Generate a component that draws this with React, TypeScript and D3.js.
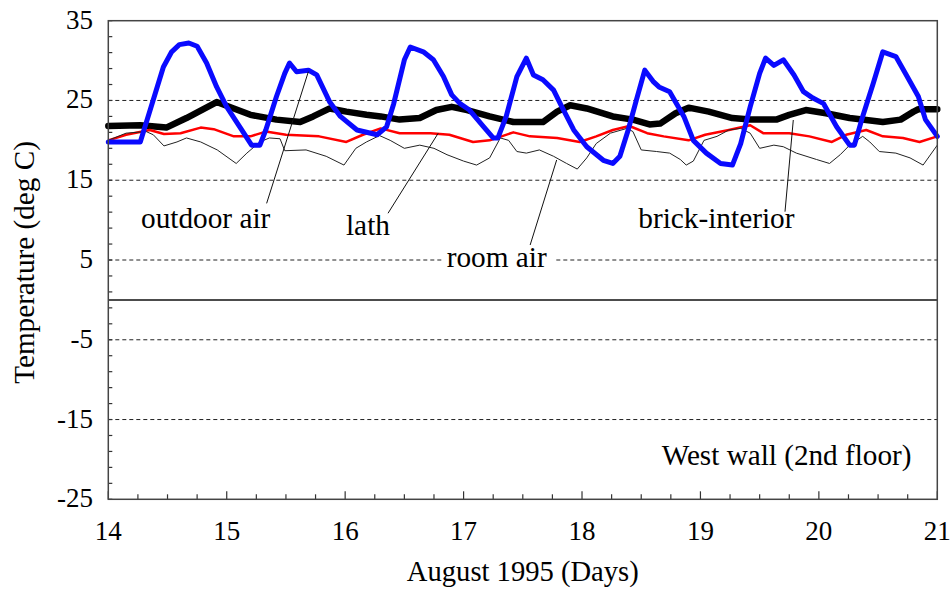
import React from "react";
import * as d3 from "d3";

const outdoorDays = [14.0, 14.27, 14.38, 14.465, 14.535, 14.6, 14.68, 14.75, 14.83, 14.915, 15.0, 15.11, 15.21, 15.28, 15.33, 15.42, 15.49, 15.53, 15.59, 15.69, 15.76, 15.87, 15.96, 16.1, 16.27, 16.35, 16.41, 16.5, 16.55, 16.66, 16.745, 16.83, 16.9, 16.97, 17.05, 17.17, 17.25, 17.29, 17.36, 17.45, 17.53, 17.59, 17.67, 17.76, 17.83, 17.93, 18.04, 18.18, 18.26, 18.32, 18.39, 18.46, 18.53, 18.6, 18.65, 18.74, 18.86, 18.94, 19.05, 19.17, 19.27, 19.34, 19.42, 19.5, 19.55, 19.62, 19.7, 19.79, 19.87, 19.95, 20.04, 20.15, 20.26, 20.3, 20.37, 20.46, 20.54, 20.65, 20.73, 20.84, 20.9, 21.0];
const outdoorTemps = [19.8, 19.8, 25.1, 29.2, 31.1, 32.0, 32.2, 31.8, 29.7, 26.7, 24.2, 21.7, 19.4, 19.4, 21.3, 25.5, 28.4, 29.7, 28.6, 28.8, 28.2, 24.8, 23.0, 21.3, 20.7, 21.7, 24.6, 30.1, 31.7, 31.1, 30.1, 28.0, 25.7, 24.6, 23.8, 21.7, 20.3, 20.3, 23.0, 28.0, 30.3, 28.2, 27.6, 26.3, 24.2, 21.3, 19.2, 17.5, 17.1, 18.0, 21.3, 25.1, 28.8, 27.4, 26.7, 26.1, 23.0, 20.0, 18.4, 17.1, 16.9, 19.6, 24.2, 28.4, 30.3, 29.4, 30.1, 28.2, 26.1, 25.3, 24.6, 21.7, 19.4, 19.4, 23.0, 27.2, 31.1, 30.5, 28.4, 25.5, 22.6, 20.5];

const brickDays = [14.0, 14.27, 14.49, 14.66, 14.915, 15.06, 15.2, 15.42, 15.62, 15.73, 15.87, 16.01, 16.18, 16.3, 16.46, 16.63, 16.77, 16.9, 17.03, 17.22, 17.42, 17.67, 17.79, 17.9, 18.04, 18.26, 18.43, 18.57, 18.66, 18.79, 18.9, 19.07, 19.27, 19.42, 19.64, 19.75, 19.89, 20.06, 20.26, 20.54, 20.69, 20.8, 20.84, 21.0];
const brickTemps = [21.8, 21.9, 21.6, 22.8, 24.8, 24.0, 23.2, 22.6, 22.3, 23.0, 24.0, 23.6, 23.2, 23.0, 22.6, 22.8, 23.8, 24.2, 23.8, 23.0, 22.3, 22.3, 23.6, 24.4, 24.0, 23.0, 22.6, 22.0, 22.1, 23.4, 24.1, 23.6, 22.8, 22.6, 22.6, 23.2, 23.8, 23.4, 22.8, 22.3, 22.6, 23.6, 23.9, 23.9];

const lathDays = [14.0, 14.15, 14.35, 14.47, 14.61, 14.78, 14.89, 15.06, 15.2, 15.33, 15.5, 15.78, 16.01, 16.15, 16.3, 16.46, 16.72, 16.88, 17.08, 17.22, 17.42, 17.56, 17.79, 17.98, 18.12, 18.26, 18.4, 18.55, 18.69, 18.9, 19.04, 19.24, 19.42, 19.53, 19.75, 19.92, 20.11, 20.23, 20.4, 20.54, 20.71, 20.85, 21.0];
const lathTemps = [20.0, 20.7, 21.3, 20.8, 20.9, 21.6, 21.4, 20.5, 20.5, 21.1, 20.7, 20.5, 19.8, 20.7, 21.5, 20.9, 20.9, 20.7, 19.8, 20.0, 21.0, 20.5, 20.3, 19.8, 20.5, 21.3, 21.8, 20.9, 20.5, 20.0, 20.7, 21.3, 21.9, 20.9, 20.9, 20.5, 19.8, 20.7, 21.3, 20.5, 20.3, 19.8, 20.5];

const roomDays = [14.0, 14.15, 14.32, 14.38, 14.47, 14.58, 14.66, 14.78, 14.92, 15.08, 15.17, 15.28, 15.36, 15.45, 15.49, 15.67, 15.84, 15.99, 16.09, 16.18, 16.29, 16.38, 16.5, 16.63, 16.75, 16.86, 17.0, 17.11, 17.22, 17.31, 17.38, 17.45, 17.53, 17.64, 17.76, 17.87, 17.96, 18.04, 18.12, 18.24, 18.38, 18.43, 18.5, 18.63, 18.74, 18.83, 18.88, 18.94, 19.03, 19.14, 19.24, 19.34, 19.42, 19.5, 19.62, 19.7, 19.81, 19.98, 20.09, 20.18, 20.26, 20.37, 20.43, 20.51, 20.65, 20.77, 20.88, 21.0];
const roomTemps = [20.0, 20.9, 21.1, 20.7, 19.3, 19.8, 20.3, 19.8, 18.8, 17.1, 18.4, 19.8, 20.3, 20.2, 18.7, 18.8, 18.0, 16.9, 19.0, 19.8, 20.6, 20.0, 19.0, 19.4, 19.0, 18.2, 17.4, 16.9, 17.8, 20.3, 20.0, 18.6, 18.4, 18.8, 18.0, 17.1, 16.4, 17.8, 19.6, 20.9, 21.5, 21.1, 18.8, 18.6, 18.4, 17.6, 16.9, 17.4, 20.0, 20.5, 21.3, 21.5, 20.9, 19.0, 19.4, 19.2, 18.4, 17.6, 17.1, 18.2, 19.4, 20.5, 19.8, 18.6, 18.4, 17.8, 16.9, 19.4];

const xTickLabels = [14, 15, 16, 17, 18, 19, 20, 21];
const yTickLabels = [35, 25, 15, 5, -5, -15, -25];
const gridValues = [25, 15, 5, -5, -15];

const labelTexts = ["outdoor air", "lath", "room air", "brick-interior"];
const labelDays = [14.276, 16.007, 16.857, 18.475];
const labelTemps = [9.0, 8.14, 4.16, 9.0];
const leaderFromDays = [15.337, 16.362, 17.562, 19.714];
const leaderFromTemps = [12.1, 10.86, 6.88, 11.06];
const leaderToDays = [15.689, 16.786, 17.786, 19.784];
const leaderToTemps = [28.6, 20.9, 17.54, 22.55];

const panelNote = "West wall (2nd floor)";
const panelNoteDay = 18.673;
const panelNoteTemp = -20.7;

const W = 950;
const H = 592;
const L = 108.3, R = 937.3, T = 20.7, B = 499.3;
const FONT = "'Liberation Serif', 'Times New Roman', serif";

export default function App() {
  const x = d3.scaleLinear().domain([14, 21]).range([L, R]);
  const y = d3.scaleLinear().domain([-25, 35]).range([B, T]);
  const mk = (xs: number[], ys: number[]) =>
    d3.line<number>().x((_, i) => x(xs[i])).y((v) => y(v)).curve(d3.curveLinear)(ys) || "";

  const minorX = d3.range(14, 21.0001, 0.25);
  const minorY = d3.range(-25, 35.0001, 2);

  return (
    <svg width={W} height={H} style={{ position: "absolute", left: 0, top: 0, background: "#fff" }} fontFamily={FONT}>
      <rect x={0} y={0} width={W} height={H} fill="#fff" />
      {gridValues.map((g) => (
        <line key={g} x1={L} x2={R} y1={y(g)} y2={y(g)} stroke="#222" strokeWidth={1} strokeDasharray="4,3" />
      ))}
      <line x1={L} x2={R} y1={y(0)} y2={y(0)} stroke="#111" strokeWidth={1.5} />
      {minorX.map((d) => {
        const major = Math.abs(d - Math.round(d)) < 1e-6;
        return <line key={"tx" + d} x1={x(d)} x2={x(d)} y1={B} y2={B - (major ? 8 : 5)} stroke="#333" strokeWidth={1.2} />;
      })}
      {minorY.map((d) => (
        <line key={"ty" + d} x1={L} x2={L + 4} y1={y(d)} y2={y(d)} stroke="#333" strokeWidth={1.2} />
      ))}
      <path d={mk(brickDays, brickTemps)} fill="none" stroke="#000" strokeWidth={6.5} strokeLinejoin="round" strokeLinecap="round" />
      <path d={mk(lathDays, lathTemps)} fill="none" stroke="#ff0000" strokeWidth={2.5} strokeLinejoin="round" />
      <path d={mk(roomDays, roomTemps)} fill="none" stroke="#222" strokeWidth={1} strokeLinejoin="round" />
      <path d={mk(outdoorDays, outdoorTemps)} fill="none" stroke="#0a0aff" strokeWidth={5} strokeLinejoin="round" strokeLinecap="round" />
      {labelTexts.map((t, i) => (
        <g key={t}>
          {t === "room air" && (
            <rect x={x(labelDays[i]) - 4} y={y(labelTemps[i]) - 22} width={112} height={28} fill="#fff" />
          )}
          <line x1={x(leaderFromDays[i])} y1={y(leaderFromTemps[i])} x2={x(leaderToDays[i])} y2={y(leaderToTemps[i])} stroke="#111" strokeWidth={1} />
          <text x={x(labelDays[i])} y={y(labelTemps[i])} fontSize={29.3} fill="#000">{t}</text>
        </g>
      ))}
      <text x={x(panelNoteDay)} y={y(panelNoteTemp)} fontSize={29.2} fill="#000">{panelNote}</text>
      <rect x={L} y={T} width={R - L} height={B - T} fill="none" stroke="#444" strokeWidth={1.5} />
      {xTickLabels.map((d) => (
        <text key={"xl" + d} x={x(d)} y={540} fontSize={27} textAnchor="middle" fill="#000">{d}</text>
      ))}
      {yTickLabels.map((d) => (
        <text key={"yl" + d} x={93} y={y(d) + 8} fontSize={27} textAnchor="end" fill="#000">{d}</text>
      ))}
      <text x={(L + R) / 2} y={581} fontSize={28.6} textAnchor="middle" fill="#000">August 1995 (Days)</text>
      <text transform={`translate(34, 262.5) rotate(-90)`} fontSize={29.2} textAnchor="middle" fill="#000">Temperature (deg C)</text>
    </svg>
  );
}
